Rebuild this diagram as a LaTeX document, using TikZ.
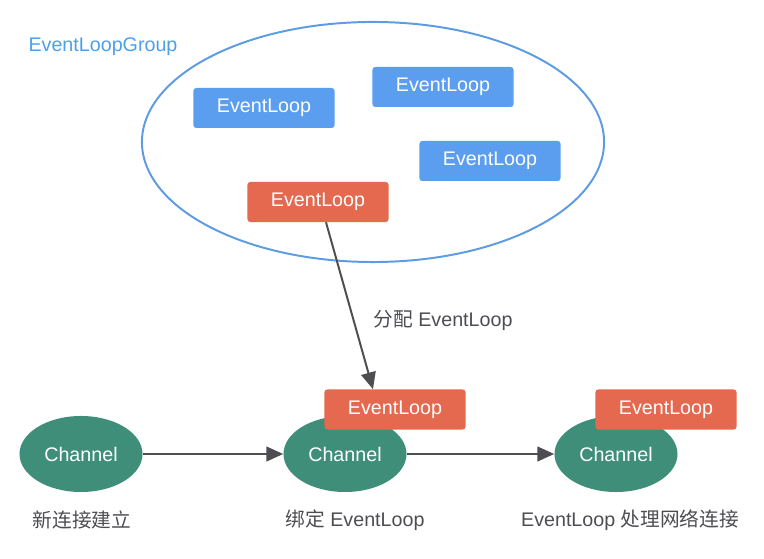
\documentclass[tikz,border=0pt]{standalone}
\usepackage{fontspec}
\setmainfont{Liberation Sans}
\newfontfamily\cjk{Noto Sans CJK SC}
\usetikzlibrary{positioning,arrows.meta,calc,shapes.geometric}
\definecolor{LoopBlue}{HTML}{5B9EF0}
\definecolor{LoopRed}{HTML}{E4694F}
\definecolor{ChanGreen}{HTML}{3E8E7A}
\definecolor{GroupLine}{HTML}{5D9CE2}
\definecolor{GroupText}{HTML}{4E9FEA}
\definecolor{Ink}{HTML}{4D4D52}

\tikzset{
  loop/.style={rounded corners=2pt, minimum width=3.525cm, minimum height=1cm,
    text=white, font=\fontsize{14}{16}\selectfont},
  freeloop/.style={loop, fill=LoopBlue},
  usedloop/.style={loop, fill=LoopRed},
  chan/.style={ellipse, fill=ChanGreen, minimum width=3.075cm, minimum height=1.9cm,
    text=white, font=\fontsize{14}{16}\selectfont},
  caption/.style={text=Ink, font=\fontsize{14}{16}\selectfont},
  arr/.style={Ink, line width=1.4pt, -{Triangle[length=12pt, width=10.5pt]}}
}

\begin{document}
\begin{tikzpicture}[x=0.025cm, y=0.025cm]
  \useasboundingbox (0,0) rectangle (764,559);
  % the group and its loops
  \node[ellipse, draw=GroupLine, line width=1.4pt, minimum width=11.55cm,
    minimum height=6cm] (grp) at (373,417) {};
  \node[text=GroupText, font=\fontsize{14}{16}\selectfont] (grplabel) at (103,512) {EventLoopGroup};
  \node[freeloop] (loopa) at (264,451) {EventLoop};
  \node[freeloop] (loopb) at (443,472) {EventLoop};
  \node[freeloop] (loopc) at (490,398) {EventLoop};
  \node[usedloop] (loopd) at (318,357) {EventLoop};
  % channels, left to right
  \node[chan] (cha) at (81,105) {Channel};
  \node[chan] (chb) at (345,105) {Channel};
  \node[chan] (chc) at (616,105) {Channel};
  \node[usedloop] (boundb) at (395,149.5) {EventLoop};
  \node[usedloop] (boundc) at (666,149.5) {EventLoop};
  % connectors
  \draw[arr] ([xshift=0.2cm]loopd.south) -- ([xshift=-0.55cm]boundb.north);
  \node[caption] (assign) at (443,239) {{\cjk 分配} EventLoop};
  \draw[arr] (cha) -- (chb);
  \draw[arr] (chb) -- (chc);
  % captions under the channels
  \node[caption] (capa) at (82,39) {\cjk 新连接建立};
  \node[caption] (capb) at (355,39) {{\cjk 绑定} EventLoop};
  \node[caption] (capc) at (630,39) {EventLoop {\cjk 处理网络连接}};
\end{tikzpicture}
\end{document}
